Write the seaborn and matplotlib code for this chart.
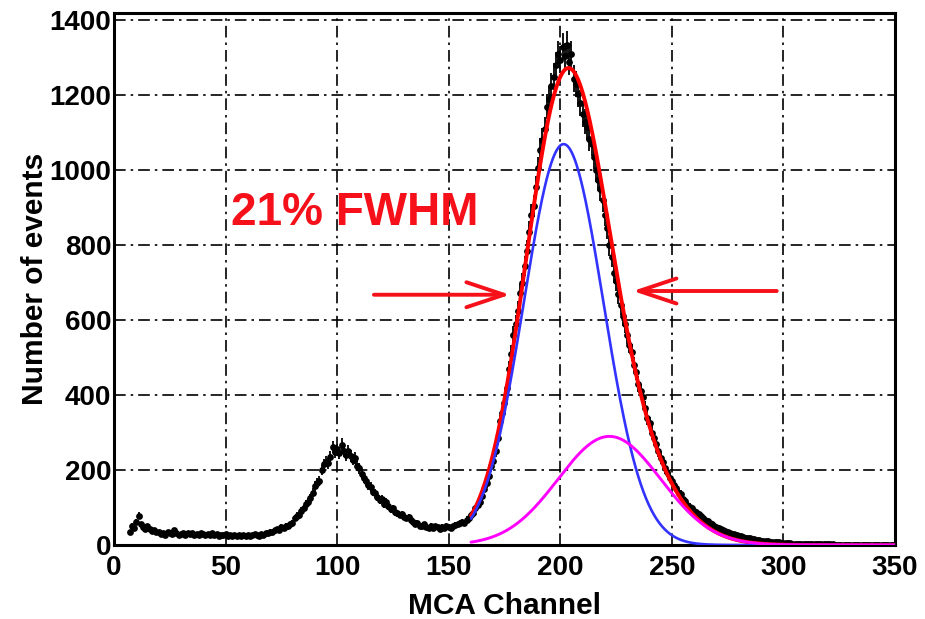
import numpy as np
import pandas as pd
import matplotlib
matplotlib.use("Agg")
import matplotlib.pyplot as plt
import seaborn as sns
from matplotlib.ticker import MultipleLocator

# ---------------- data ----------------
first_channel = 7
counts = [
    # 7-19
    35, 52, 45, 62, 78, 55, 48, 44, 50, 42, 38, 40, 36,
    # 20-45
    34, 30, 33, 28, 35, 31, 29, 40, 33, 27, 30, 32, 26, 31, 29, 33, 28, 30, 27, 31,
    29, 26, 30, 28, 32, 27,
    # 46-70
    29, 25, 28, 26, 30, 24, 27, 25, 28, 23, 26, 24, 27, 25, 28, 24, 26, 29, 27, 25,
    30, 28, 33, 31, 36,
    # 71-100
    34, 39, 42, 40, 48, 45, 52, 50, 55, 60, 72, 78, 80, 92, 98, 110, 115, 125, 140, 158,
    165, 172, 200, 215, 222, 218, 235, 262, 248, 255,
    # 101-130
    245, 268, 252, 240, 250, 238, 228, 232, 212, 205, 190, 178, 172, 160, 155, 142, 138, 128, 120, 122,
    110, 116, 105, 95, 98, 88, 85, 80, 82, 75,
    # 131-160
    72, 74, 66, 62, 55, 58, 52, 50, 55, 48, 46, 52, 45, 50, 47, 44, 49, 46, 52, 48,
    45, 50, 53, 55, 58, 62, 60, 68, 72, 80,
    # 161-190
    85, 98, 108, 115, 132, 150, 165, 185, 210, 225, 250, 285, 330, 352, 380, 420, 470, 510, 560, 590,
    625, 672, 700, 745, 785, 835, 880, 905, 955, 1005,
    # 191-220
    1055, 1080, 1110, 1170, 1190, 1225, 1250, 1280, 1310, 1295, 1330, 1305, 1335, 1290, 1310, 1245, 1230, 1205, 1180, 1150,
    1130, 1115, 1085, 1070, 1035, 1000, 975, 950, 920, 880,
    # 221-250
    845, 800, 770, 725, 705, 670, 640, 610, 590, 560, 535, 515, 480, 462, 430, 410, 395, 365, 340, 325,
    300, 285, 270, 250, 232, 222, 205, 195, 180, 172,
    # 251-280
    160, 152, 140, 135, 122, 118, 108, 102, 98, 92, 88, 82, 78, 72, 68, 64, 60, 55, 52, 48,
    46, 42, 40, 37, 35, 33, 30, 29, 27, 25,
    # 281-310
    23, 22, 20, 19, 18, 16, 15, 14, 13, 12, 11, 10, 10, 9, 8, 8, 7, 7, 6, 6,
    5, 5, 5, 4, 4, 4, 4, 3, 3, 3,
    # 311-349
    3, 3, 3, 2, 2, 2, 2, 2, 2, 2, 2, 2, 1, 1, 1, 1, 1, 1, 1, 1,
    1, 1, 1, 1, 1, 1, 1, 1, 1, 1, 1, 1, 1, 1, 1, 1, 1, 1, 1,
]
channels = list(range(first_channel, first_channel + len(counts)))

# fitted Gaussian components: amplitude, mean, sigma
main_peak = [1070, 201.5, 17.8]     # blue
second_peak = [290, 222.0, 23.0]    # magenta
fit_range = [160, 350]

annotation_text = "21% FWHM"
arrow_level = 668
left_arrow = [116.5, 177.5]   # tail, tip (channel)
right_arrow = [297.0, 232.5]  # tail, tip (channel)

x_label = "MCA Channel"
y_label = "Number of events"

# ---------------- figure ----------------
sns.set_theme(style="white")
plt.rcParams["font.family"] = ["Liberation Sans", "DejaVu Sans"]
plt.rcParams.update({"text.color": "black", "axes.labelcolor": "black",
                     "xtick.color": "black", "ytick.color": "black"})

fig = plt.figure(figsize=(9.25, 6.19), dpi=100)
ax = fig.add_axes([0.1232, 0.1195, 0.8444, 0.8595])

df = pd.DataFrame({"channel": channels, "counts": counts})
df["err"] = np.sqrt(df["counts"])

# grid (dash-dot, ROOT style)
ax.set_axisbelow(True)
ax.grid(True, which="major", color="black", lw=1.2, linestyle=(0, (7, 3, 1.5, 3)))

# faint red line along zero
ax.axhline(0, color="#ff3030", lw=2.2, alpha=0.55, zorder=2)

ax.errorbar(df["channel"], df["counts"], yerr=df["err"], fmt="none",
            ecolor="black", elinewidth=1.3, capsize=0, zorder=3)
sns.scatterplot(data=df, x="channel", y="counts", ax=ax, color="black",
                s=24, linewidth=0, zorder=3, legend=False)

xf = np.linspace(fit_range[0], fit_range[1], 800)
def gauss(p, x):
    return p[0] * np.exp(-0.5 * ((x - p[1]) / p[2]) ** 2)
g1 = gauss(main_peak, xf)
g2 = gauss(second_peak, xf)
fits = pd.DataFrame({"x": xf, "total": g1 + g2, "g1": g1, "g2": g2})

sns.lineplot(data=fits, x="x", y="total", ax=ax, color="#ff0000", lw=2.8, zorder=4)
sns.lineplot(data=fits, x="x", y="g1", ax=ax, color="#3333ff", lw=1.9, zorder=5)
sns.lineplot(data=fits, x="x", y="g2", ax=ax, color="#ff00ff", lw=2.1, zorder=6)

# annotation
ax.text(52.5, 885, annotation_text, color="#f5101a", fontsize=33,
        fontweight="bold", ha="left", va="center", zorder=7)
arrow_props = dict(arrowstyle="->,head_length=1.35,head_width=0.45",
                   color="#f5101a", lw=2.8, mutation_scale=20, shrinkA=0, shrinkB=0)
ax.annotate("", xy=(left_arrow[1], arrow_level), xytext=(left_arrow[0], arrow_level),
            arrowprops=arrow_props, zorder=7)
ax.annotate("", xy=(right_arrow[1], arrow_level + 10), xytext=(right_arrow[0], arrow_level + 10),
            arrowprops=arrow_props, zorder=7)

# axes
ax.set_xlim(0, 350)
ax.set_ylim(0, 1420)
ax.xaxis.set_major_locator(MultipleLocator(50))
ax.xaxis.set_minor_locator(MultipleLocator(10))
ax.yaxis.set_major_locator(MultipleLocator(200))
ax.yaxis.set_minor_locator(MultipleLocator(50))

ax.tick_params(axis="both", which="both", direction="in", color="black", width=1.4)
ax.tick_params(axis="x", which="major", length=12, pad=7)
ax.tick_params(axis="x", which="minor", length=6.5)
ax.tick_params(axis="y", which="major", length=14, pad=2)
ax.tick_params(axis="y", which="minor", length=8.5)
for lab in ax.get_xticklabels() + ax.get_yticklabels():
    lab.set_fontsize(20)
    lab.set_fontweight("bold")

for sp in ax.spines.values():
    sp.set_color("black")
    sp.set_linewidth(2.2)

ax.set_xlabel(x_label, fontsize=21.5, fontweight="bold", labelpad=8)
ax.set_ylabel(y_label, fontsize=21.5, fontweight="bold", labelpad=0)

fig.savefig("out.png", dpi=100, facecolor="white")
